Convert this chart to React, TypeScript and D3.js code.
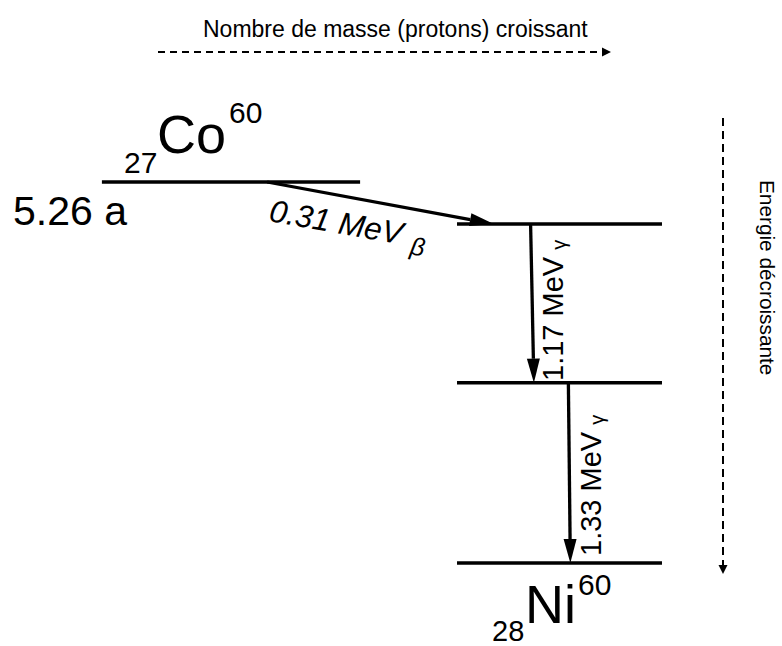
import React, { useEffect } from "react";
import * as d3 from "d3";

// energy levels (MeV above the Ni-60 ground state) and proton number of the nuclide
const levelEnergy = [2.81, 2.5, 1.33, 0];
const levelSpan = [
  [26.607, 27.393],
  [27.688, 28.312],
  [27.688, 28.312],
  [27.688, 28.312],
];

// transitions
const transFromLevel = [0, 1, 2];
const transToLevel = [1, 2, 3];
const transZFrom = [27.11, 27.912, 28.027];
const transZTo = [27.8, 27.922, 28.033];
const transEnergy = ["0.31 MeV", "1.17 MeV", "1.33 MeV"];
const transParticle = ["β", "γ", "γ"];

const nuclideSymbol = ["Co", "Ni"];
const nuclideA = ["60", "60"];
const nuclideZ = ["27", "28"];
const halfLife = "5.26 a";

const axisTitleX = "Nombre de masse (protons) croissant";
const axisTitleY = "Energie décroissante";

const W = 782;
const H = 646;
const FONT = "'Liberation Sans', Arial, Helvetica, sans-serif";

export default function App() {
  useEffect(() => {
    document.body.style.margin = "0";
  }, []);

  const y = d3.scaleLinear().domain([0, 2.81]).range([563, 182]);
  const x = d3.scaleLinear().domain([27, 28]).range([231, 559.5]);

  const arrowPath = (x1, y1, x2, y2, len, half) => {
    const a = Math.atan2(y2 - y1, x2 - x1);
    const bx = x2 - len * Math.cos(a);
    const by = y2 - len * Math.sin(a);
    const px = -Math.sin(a) * half;
    const py = Math.cos(a) * half;
    const p = d3.path();
    p.moveTo(x2, y2);
    p.lineTo(bx + px, by + py);
    p.lineTo(bx - px, by - py);
    p.closePath();
    return { head: p.toString(), bx, by };
  };

  return (
    <svg width={W} height={H} style={{ display: "block", background: "#fff" }} fontFamily={FONT}>
      {/* horizontal axis title + dashed arrow */}
      <text x={203} y={37} fontSize={23} fill="#000">{axisTitleX}</text>
      <line x1={158} x2={602} y1={52} y2={52} stroke="#000" strokeWidth={1.8} strokeDasharray="7,5" />
      <path d="M611,52 L602,47.5 L602,56.5 Z" fill="#000" />

      {/* vertical axis title + dashed arrow */}
      <line x1={723} x2={723} y1={118} y2={565} stroke="#000" strokeWidth={2} strokeDasharray="8,5" />
      <path d="M723,574 L718.5,565 L727.5,565 Z" fill="#000" />
      <text transform="translate(760,180) rotate(90)" fontSize={20.8} fill="#000">{axisTitleY}</text>

      {/* energy levels */}
      {levelEnergy.map((e, i) => (
        <line key={"lv" + i} x1={x(levelSpan[i][0])} x2={x(levelSpan[i][1])} y1={y(e)} y2={y(e)}
          stroke="#000" strokeWidth={3.5} />
      ))}

      {/* transitions */}
      {transFromLevel.map((f, i) => {
        const x1 = x(transZFrom[i]);
        const y1 = y(levelEnergy[f]);
        const x2 = x(transZTo[i]);
        const y2 = y(levelEnergy[transToLevel[i]]);
        const ah = arrowPath(x1, y1, x2, y2, 24, 6.5);
        return (
          <g key={"tr" + i}>
            <line x1={x1} y1={y1} x2={ah.bx} y2={ah.by} stroke="#000" strokeWidth={3.3} />
            <path d={ah.head} fill="#000" />
          </g>
        );
      })}

      {/* transition labels */}
      <text transform="translate(268,221) rotate(10)" fontSize={31.5} fontStyle="italic" fill="#000">
        {transEnergy[0]}
        <tspan dx={10} dy={8} fontSize={25}>{transParticle[0]}</tspan>
      </text>
      <text transform="translate(563,381) rotate(-90)" fontSize={29} fill="#000">
        {transEnergy[1]}
        <tspan dx={7} dy={3} fontSize={20}>{transParticle[1]}</tspan>
      </text>
      <text transform="translate(601,556) rotate(-90)" fontSize={29} fill="#000">
        {transEnergy[2]}
        <tspan dx={7} dy={3} fontSize={20}>{transParticle[2]}</tspan>
      </text>

      {/* nuclide labels */}
      <text x={124} y={173} fontSize={30} fill="#000">{nuclideZ[0]}</text>
      <text x={157} y={153} fontSize={54} fill="#000">{nuclideSymbol[0]}</text>
      <text x={229} y={123} fontSize={30} fill="#000">{nuclideA[0]}</text>
      <text x={13} y={225} fontSize={41} fill="#000">{halfLife}</text>

      <text x={492} y={641} fontSize={29} fill="#000">{nuclideZ[1]}</text>
      <text x={525} y={623} fontSize={54} fill="#000">{nuclideSymbol[1]}</text>
      <text x={578} y={595} fontSize={30} fill="#000">{nuclideA[1]}</text>
    </svg>
  );
}
